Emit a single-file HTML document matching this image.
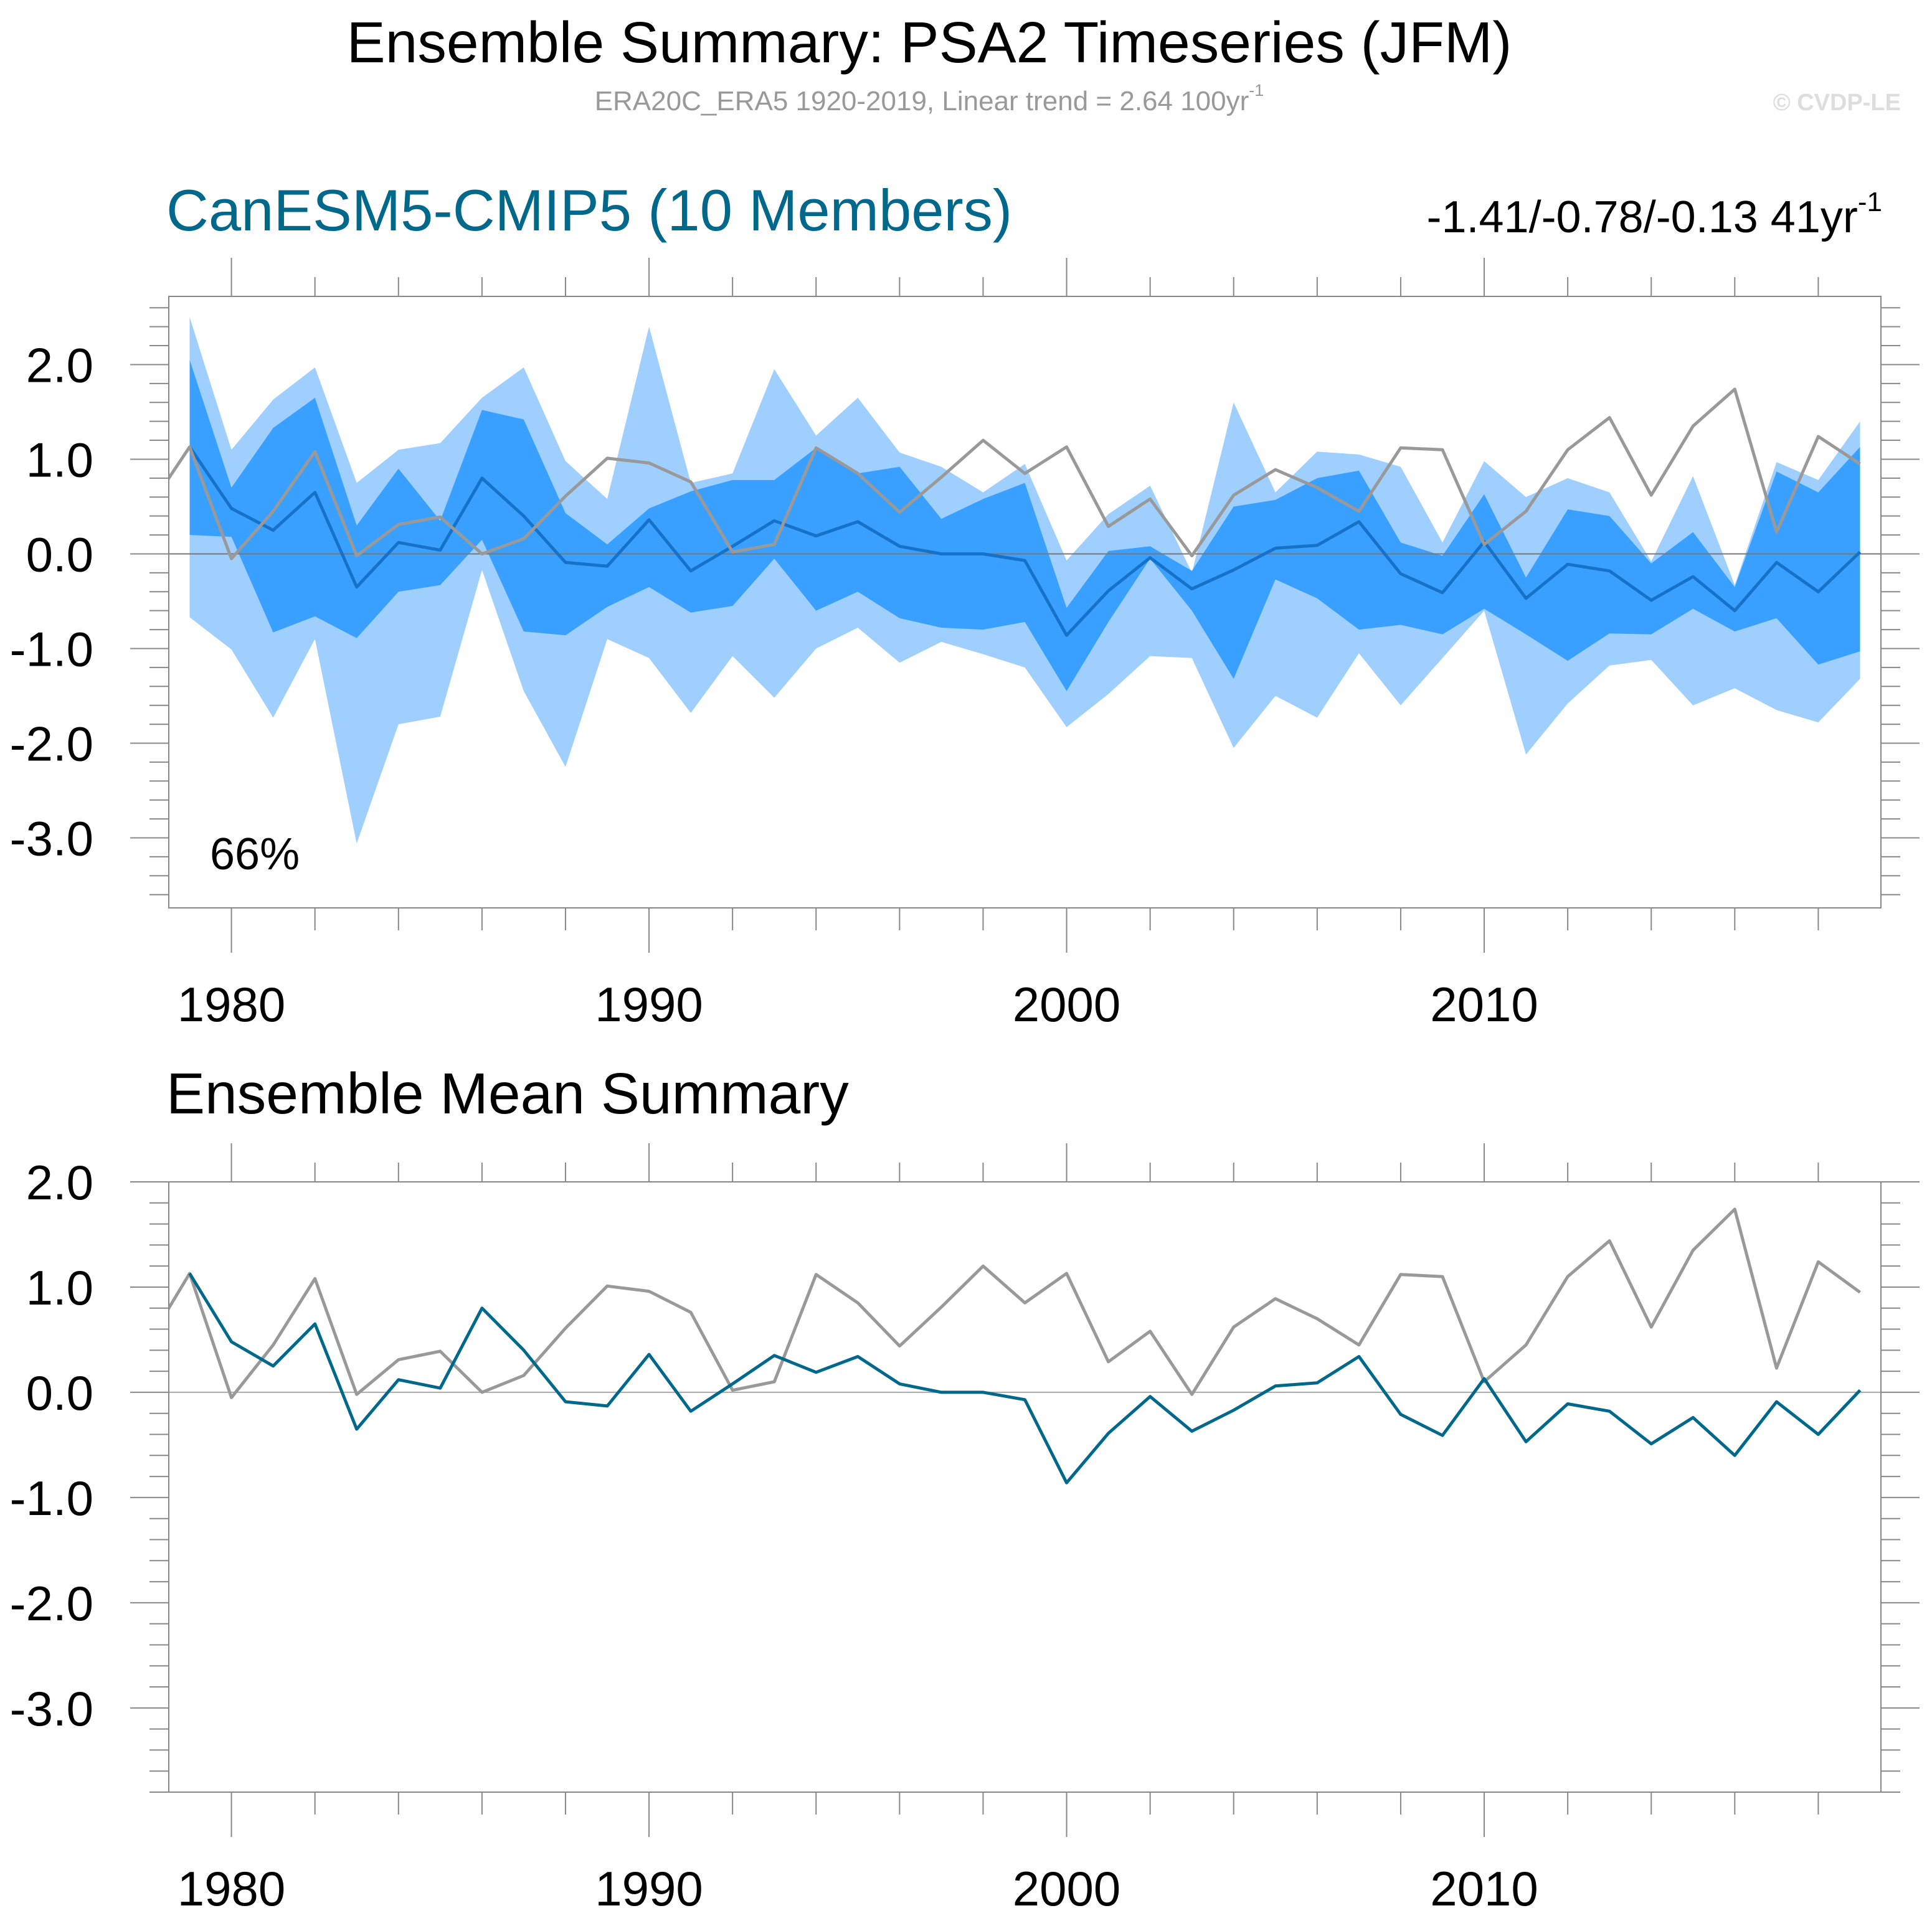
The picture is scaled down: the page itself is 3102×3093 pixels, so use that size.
<!DOCTYPE html>
<html><head><meta charset="utf-8"><style>
html,body{margin:0;padding:0;background:#fff;}
svg{display:block;font-family:"Liberation Sans",sans-serif;}
</style></head><body>
<svg id="chart" width="3102" height="3093" viewBox="0 0 3102 3093" xmlns="http://www.w3.org/2000/svg">
<text x="1492" y="100" font-size="93" text-anchor="middle" fill="#000">Ensemble Summary: PSA2 Timeseries (JFM)</text>
<text x="1492" y="177" font-size="44" text-anchor="middle" fill="#999">ERA20C_ERA5 1920-2019, Linear trend = 2.64 100yr<tspan font-size="27" dy="-23">-1</tspan></text>
<text x="3052" y="177" font-size="38" font-weight="bold" text-anchor="end" fill="#ddd">© CVDP-LE</text>
<text x="267" y="370" font-size="94" fill="#00688B">CanESM5-CMIP5 (10 Members)</text>
<text x="3022" y="373" font-size="72" text-anchor="end" fill="#000">-1.41/-0.78/-0.13 41yr<tspan font-size="44" dy="-34">-1</tspan></text>
<text x="267" y="1788" font-size="93" fill="#000">Ensemble Mean Summary</text>
<g id="top"></g>
<g id="bot"></g>
</svg>
<script>
const years = [1979,1980,1981,1982,1983,1984,1985,1986,1987,1988,1989,1990,1991,1992,1993,1994,1995,1996,1997,1998,1999,2000,2001,2002,2003,2004,2005,2006,2007,2008,2009,2010,2011,2012,2013,2014,2015,2016,2017,2018,2019];
const ensMean = [1.13,0.48,0.25,0.65,-0.35,0.12,0.04,0.80,0.40,-0.09,-0.13,0.36,-0.18,0.08,0.35,0.19,0.34,0.08,0.0,0.0,-0.07,-0.86,-0.39,-0.04,-0.37,-0.17,0.06,0.09,0.34,-0.21,-0.41,0.13,-0.47,-0.11,-0.18,-0.49,-0.24,-0.60,-0.09,-0.40,0.02];
const obsYears = [1978,1979,1980,1981,1982,1983,1984,1985,1986,1987,1988,1989,1990,1991,1992,1993,1994,1995,1996,1997,1998,1999,2000,2001,2002,2003,2004,2005,2006,2007,2008,2009,2010,2011,2012,2013,2014,2015,2016,2017,2018,2019];
const obs = [0.47,1.13,-0.05,0.45,1.08,-0.02,0.31,0.39,0.0,0.16,0.61,1.01,0.96,0.76,0.02,0.10,1.12,0.85,0.44,0.81,1.20,0.85,1.13,0.29,0.58,-0.02,0.62,0.89,0.70,0.45,1.12,1.10,0.10,0.45,1.10,1.44,0.62,1.35,1.74,0.23,1.24,0.95];
const outerTop = [2.5,1.1,1.63,1.97,0.75,1.1,1.17,1.65,1.97,0.98,0.58,2.4,0.75,0.85,1.95,1.25,1.65,1.07,0.92,0.65,0.95,-0.07,0.42,0.72,-0.2,1.6,0.65,1.08,1.05,0.92,0.12,0.98,0.6,0.8,0.65,-0.08,0.82,-0.33,0.97,0.78,1.4];
const innerTop = [2.05,0.7,1.33,1.65,0.3,0.9,0.35,1.52,1.42,0.43,0.1,0.48,0.66,0.78,0.78,1.12,0.85,0.92,0.37,0.58,0.75,-0.57,0.03,0.08,-0.18,0.5,0.57,0.8,0.88,0.12,-0.02,0.63,-0.25,0.47,0.4,-0.1,0.23,-0.35,0.87,0.65,1.13];
const innerBot = [0.2,0.18,-0.83,-0.66,-0.89,-0.4,-0.33,0.15,-0.82,-0.86,-0.56,-0.35,-0.62,-0.55,-0.05,-0.6,-0.4,-0.68,-0.78,-0.8,-0.72,-1.45,-0.72,-0.05,-0.6,-1.32,-0.27,-0.47,-0.8,-0.75,-0.85,-0.58,-0.85,-1.13,-0.84,-0.85,-0.58,-0.82,-0.68,-1.17,-1.03];
const outerBot = [-0.67,-1.01,-1.73,-0.9,-3.06,-1.8,-1.72,-0.17,-1.45,-2.25,-0.9,-1.1,-1.68,-1.08,-1.52,-1.0,-0.78,-1.15,-0.93,-1.06,-1.2,-1.83,-1.48,-1.08,-1.1,-2.05,-1.5,-1.73,-1.05,-1.6,-1.1,-0.6,-2.12,-1.58,-1.18,-1.12,-1.6,-1.42,-1.65,-1.78,-1.32];
const yTickLabels = ["2.0","1.0","0.0","-1.0","-2.0","-3.0"];
const yTickValues = [2,1,0,-1,-2,-3];
const xTickLabels = ["1980","1990","2000","2010"];
const xTickValues = [1980,1990,2000,2010];

const NS = "http://www.w3.org/2000/svg";
function mk(parent, tag, attrs){const e=document.createElementNS(NS,tag);for(const k in attrs)e.setAttribute(k,attrs[k]);parent.appendChild(e);return e;}

function panel(g, top, bottom, ymin, ymax, labelY, clipId, drawFn){
  const L=271,R=3020,x0=1978.5,x1=2019.5;
  const sx=v=>L+(v-x0)/(x1-x0)*(R-L);
  const sy=v=>top+(ymax-v)/(ymax-ymin)*(bottom-top);
  const defs=mk(g,'defs',{});
  const cp=mk(defs,'clipPath',{id:clipId});
  mk(cp,'rect',{x:L,y:top,width:R-L,height:bottom-top});
  const plot=mk(g,'g',{'clip-path':'url(#'+clipId+')'});
  
  
  drawFn(plot,sx,sy);
  const box=mk(g,'rect',{x:L,y:top,width:R-L,height:bottom-top,fill:'none',stroke:'#888','stroke-width':2});
  
  
  const yt=mk(g,'g',{stroke:'#888','stroke-width':2});
  
  
  for(let i=Math.ceil(ymin*5-1e-6);i<=Math.floor(ymax*5+1e-6);i++){
    const v=i/5,y=sy(v),maj=(i%5===0);
    const len=maj?62:31;
    mk(yt,'line',{x1:L-len,y1:y,x2:L,y2:y});
    mk(yt,'line',{x1:R,y1:y,x2:R+len,y2:y});
  }
  yTickValues.forEach((v,i)=>{
    const t=mk(g,'text',{x:150,y:sy(v)+28,'font-size':78,'text-anchor':'end',fill:'#000'});
    t.textContent=yTickLabels[i];
    
    
  });
  const xt=mk(g,'g',{stroke:'#888','stroke-width':2});
  
  
  for(let yr=1980;yr<=2018;yr+=2){
    const x=sx(yr),maj=(yr%10===0),len=maj?62:31;
    mk(xt,'line',{x1:x,y1:top-len,x2:x,y2:top});
    mk(xt,'line',{x1:x,y1:bottom,x2:x,y2:bottom+len+(maj?10:5)});
  }
  xTickValues.forEach((v,i)=>{
    const t=mk(g,'text',{x:sx(v),y:labelY,'font-size':78,'text-anchor':'middle',fill:'#000'});
    t.textContent=xTickLabels[i];
    
    
  });
}
function linePath(xs,ys,sx,sy){return xs.map((x,i)=>(i?'L':'M')+sx(x).toFixed(1)+','+sy(ys[i]).toFixed(1)).join(' ');}
function bandPath(xs,a,b,sx,sy){
  let d=xs.map((x,i)=>(i?'L':'M')+sx(x).toFixed(1)+','+sy(a[i]).toFixed(1)).join(' ');
  for(let i=xs.length-1;i>=0;i--)d+=' L'+sx(xs[i]).toFixed(1)+','+sy(b[i]).toFixed(1);
  return d+' Z';
}

panel(document.getElementById('top'),476,1458,-3.74,2.72,1640,'clipTop',(p,sx,sy)=>{
  const o=mk(p,'path',{d:bandPath(years,outerTop,outerBot,sx,sy),fill:'#9ECFFE'});
  
  
  const inn=mk(p,'path',{d:bandPath(years,innerTop,innerBot,sx,sy),fill:'#3AA0FF'});
  
  
  const z=mk(p,'line',{x1:sx(1978.5),x2:sx(2019.5),y1:sy(0),y2:sy(0),stroke:'#777','stroke-width':2});
  
  
  const m=mk(p,'path',{d:linePath(years,ensMean,sx,sy),fill:'none',stroke:'#1572C8','stroke-width':5,'stroke-linejoin':'round'});
  
  
  const ob=mk(p,'path',{d:linePath(obsYears,obs,sx,sy),fill:'none',stroke:'#999','stroke-width':5,'stroke-linejoin':'round'});
  
  
});
const pct=mk(document.getElementById('top'),'text',{x:337,y:1396,'font-size':72,fill:'#000'});
pct.textContent='66%';



panel(document.getElementById('bot'),1898,2878,-3.8,2.0,3060,'clipBot',(p,sx,sy)=>{
  const z=mk(p,'line',{x1:sx(1978.5),x2:sx(2019.5),y1:sy(0),y2:sy(0),stroke:'#aaa','stroke-width':2});
  
  
  const ob=mk(p,'path',{d:linePath(obsYears,obs,sx,sy),fill:'none',stroke:'#999','stroke-width':5,'stroke-linejoin':'round'});
  
  
  const m=mk(p,'path',{d:linePath(years,ensMean,sx,sy),fill:'none',stroke:'#00688B','stroke-width':5,'stroke-linejoin':'round'});
  
  
});
</script>
</body></html>
